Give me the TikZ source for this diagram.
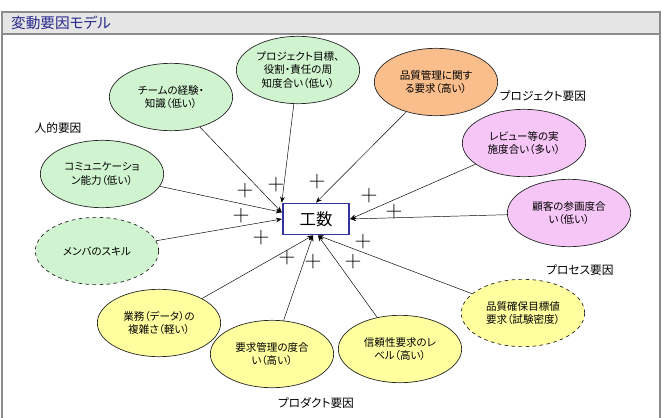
\documentclass[tikz,border=0pt]{standalone}
\usepackage{fontspec}
\newfontfamily\jp[RawFeature=+palt]{Noto Sans CJK JP}
\usetikzlibrary{shapes.geometric,arrows.meta}

\definecolor{humangreen}{RGB}{208,244,208}
\definecolor{projorange}{RGB}{249,190,140}
\definecolor{procpink}{RGB}{246,198,246}
\definecolor{prodyellow}{RGB}{255,255,160}
\definecolor{titlenavy}{RGB}{40,40,140}
\definecolor{boxblue}{RGB}{50,50,160}

\tikzset{
  factor/.style={ellipse, draw=black!85, semithick, inner sep=0pt,
    minimum width=3.7cm, minimum height=2.02cm, align=center,
    font=\jp\fontsize{9}{11.5}\selectfont},
  human/.style={factor, fill=humangreen},
  proj/.style={factor, fill=projorange},
  proc/.style={factor, fill=procpink},
  prod/.style={factor, fill=prodyellow},
  group/.style={font=\jp\fontsize{10}{12}\selectfont},
  plus/.style={font=\fontsize{20}{20}\selectfont, inner sep=0pt},
  effect/.style={-{Stealth[length=5pt,width=4pt]}, thin}
}

\begin{document}
\begin{tikzpicture}[x=0.03cm, y=-0.03cm]
\useasboundingbox (0,0) rectangle (662,418);

% Frame
\fill[black!10] (2,12) rectangle (660,34);
\draw[black!45, line width=1.2pt] (2,418) -- (2,12) -- (660,12) -- (660,418);
\draw[black!45, line width=1.2pt] (2,34) -- (660,34);
\node[anchor=west, text=titlenavy, font=\jp\fontsize{12.5}{14}\selectfont] (title) at (7,23) {変動要因モデル};

% Effort
\node[draw=boxblue, line width=1.5pt, fill=white, minimum width=2cm, minimum height=0.93cm,
  font=\jp\fontsize{14}{16}\selectfont] (kosu) at (316,219) {工数};

% Factors
\node[human] (team) at (171,97) {チームの経験・\\知識（低い）};
\node[human] (goal) at (298,70) {プロジェクト目標、\\役割・責任の周\\知度合い（低い）};
\node[proj] (qreq) at (436,82) {品質管理に関す\\る要求（高い）};
\node[proc] (review) at (524,143) {レビュー等の実\\施度合い（多い）};
\node[proc] (client) at (569,213) {顧客の参画度合\\い（低い）};
\node[human] (comm) at (102,174) {コミュニケーショ\\ン能力（低い）};
\node[human, dashed] (skill) at (97,251) {メンバのスキル};
\node[prod] (task) at (159,323) {業務（データ）の\\複雑さ（軽い）};
\node[prod] (reqmgmt) at (272,354) {要求管理の度合\\い（高い）};
\node[prod] (reliab) at (400,349) {信頼性要求のレ\\ベル（高い）};
\node[prod, dashed] (qtarget) at (523,313) {品質確保目標値\\要求（試験密度）};

% Groups
\node[group] (human label) at (58,128) {人的要因};
\node[group] (proj label) at (543,96) {プロジェクト要因};
\node[group] (proc label) at (580,270) {プロセス要因};
\node[group] (prod label) at (316,403) {プロダクト要因};

% Arrows
\draw[effect] (team) -- ([yshift=0.2cm]kosu.west);
\draw[effect] (comm) -- ([yshift=0.2cm]kosu.west);
\draw[effect] (skill) -- (kosu.west);
\draw[effect] (goal) -- (kosu.north west);
\draw[effect] (qreq) -- (kosu.north);
\draw[effect] (review) -- (kosu.east);
\draw[effect] (client) -- (kosu.east);
\draw[effect] (task) -- ([xshift=-0.09cm]kosu.south);
\draw[effect] (reqmgmt) -- ([xshift=-0.09cm]kosu.south);
\draw[effect] (reliab) -- ([xshift=0.06cm]kosu.south);
\draw[effect] (qtarget) -- ([xshift=0.06cm]kosu.south);

% Signs
\node[plus] (p1) at (245,191) {+};
\node[plus] (p2) at (276,185) {+};
\node[plus] (p3) at (317,182) {+};
\node[plus] (p4) at (369,196) {+};
\node[plus] (p5) at (394,212) {+};
\node[plus] (p6) at (241,216) {+};
\node[plus] (p7) at (261,238) {+};
\node[plus] (p8) at (287,258) {+};
\node[plus] (p9) at (313,262) {+};
\node[plus] (p10) at (363,242) {+};
\node[plus] (p11) at (353,262) {+};

\end{tikzpicture}
\end{document}
